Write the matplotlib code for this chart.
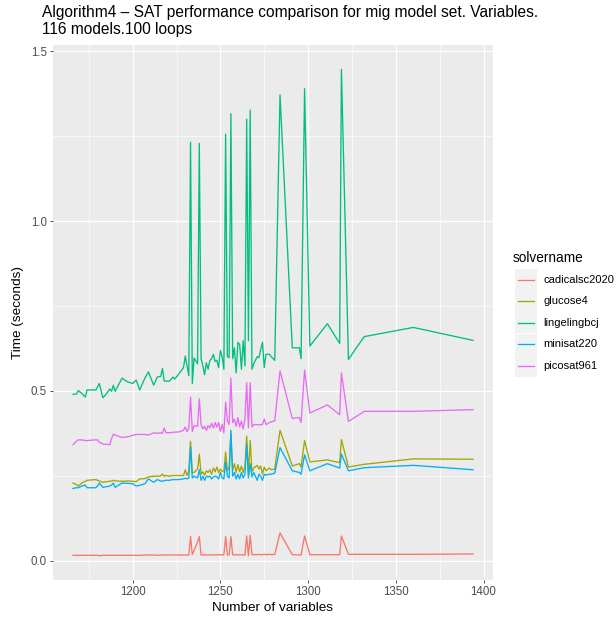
import matplotlib
matplotlib.use("Agg")
import matplotlib.pyplot as plt
from matplotlib.patches import Rectangle
from matplotlib.lines import Line2D

plt.rcParams['font.family'] = ['Liberation Sans', 'DejaVu Sans']

# number of variables per model
variables = [1166, 1168, 1169, 1171, 1173, 1174, 1179, 1180, 1181, 1183, 1185, 1187, 1188, 1189, 1190,
             1194, 1197, 1200, 1202, 1204, 1207, 1209, 1212, 1214, 1216, 1217, 1218, 1219, 1221, 1223,
             1224, 1226, 1229, 1230, 1231, 1232, 1233, 1234, 1235, 1237, 1238, 1239, 1240, 1241, 1242,
             1243, 1244, 1245, 1246, 1247, 1248, 1249, 1250, 1251, 1252, 1253, 1254, 1255, 1256, 1257,
             1258, 1259, 1260, 1261, 1262, 1263, 1264, 1265, 1266, 1267, 1268, 1269, 1271, 1272, 1273,
             1274, 1275, 1276, 1278, 1279, 1281, 1284, 1291, 1295, 1296, 1298, 1301, 1311, 1318, 1319,
             1323, 1332, 1360, 1394]

cadicalsc2020 = [0.016, 0.016, 0.016, 0.016, 0.016, 0.016, 0.016, 0.016, 0.015, 0.016, 0.016, 0.016, 0.016, 0.016, 0.016,
                 0.016, 0.016, 0.016, 0.016, 0.016, 0.017, 0.017, 0.017, 0.016, 0.017, 0.017, 0.017, 0.017, 0.017, 0.017,
                 0.017, 0.017, 0.017, 0.017, 0.017, 0.017, 0.071, 0.018, 0.030, 0.055, 0.071, 0.017, 0.017, 0.018, 0.017,
                 0.017, 0.018, 0.017, 0.017, 0.018, 0.018, 0.017, 0.018, 0.017, 0.018, 0.071, 0.017, 0.018, 0.071, 0.018,
                 0.017, 0.018, 0.018, 0.017, 0.018, 0.017, 0.017, 0.073, 0.015, 0.075, 0.018, 0.018, 0.018, 0.019, 0.018,
                 0.018, 0.019, 0.018, 0.019, 0.018, 0.019, 0.082, 0.018, 0.017, 0.017, 0.073, 0.018, 0.018, 0.018, 0.073,
                 0.019, 0.019, 0.019, 0.020]

glucose4 = [0.229, 0.224, 0.220, 0.229, 0.234, 0.237, 0.239, 0.237, 0.235, 0.231, 0.233, 0.234, 0.235, 0.237, 0.235,
            0.234, 0.235, 0.234, 0.233, 0.241, 0.242, 0.247, 0.249, 0.249, 0.250, 0.255, 0.249, 0.251, 0.249, 0.251,
            0.251, 0.251, 0.251, 0.268, 0.251, 0.265, 0.352, 0.260, 0.260, 0.270, 0.314, 0.255, 0.262, 0.252, 0.265,
            0.260, 0.268, 0.255, 0.273, 0.262, 0.276, 0.260, 0.270, 0.262, 0.265, 0.320, 0.265, 0.276, 0.375, 0.265,
            0.286, 0.260, 0.283, 0.262, 0.279, 0.260, 0.276, 0.367, 0.255, 0.354, 0.262, 0.273, 0.281, 0.270, 0.279,
            0.255, 0.276, 0.265, 0.273, 0.268, 0.270, 0.384, 0.279, 0.286, 0.276, 0.354, 0.291, 0.297, 0.289, 0.357,
            0.276, 0.284, 0.300, 0.299]

lingelingbcj = [0.490, 0.491, 0.501, 0.493, 0.482, 0.503, 0.503, 0.512, 0.522, 0.480, 0.491, 0.506, 0.499, 0.517, 0.499,
                0.538, 0.527, 0.522, 0.532, 0.503, 0.538, 0.556, 0.517, 0.541, 0.543, 0.566, 0.529, 0.529, 0.529, 0.541,
                0.535, 0.548, 0.569, 0.603, 0.574, 0.545, 1.232, 0.522, 0.597, 0.580, 1.229, 0.595, 0.574, 0.548, 0.583,
                0.564, 0.590, 0.595, 0.608, 0.587, 0.590, 0.569, 0.619, 0.601, 0.564, 1.256, 0.601, 0.598, 1.316, 0.595,
                0.627, 0.553, 0.643, 0.637, 0.564, 0.648, 0.574, 1.300, 0.648, 1.327, 0.564, 0.580, 0.601, 0.598, 0.622,
                0.643, 0.569, 0.608, 0.608, 0.601, 0.590, 1.372, 0.627, 0.627, 0.595, 1.390, 0.632, 0.698, 0.640, 1.447,
                0.593, 0.660, 0.687, 0.649]

minisat220 = [0.213, 0.215, 0.215, 0.220, 0.223, 0.215, 0.215, 0.220, 0.229, 0.216, 0.218, 0.220, 0.223, 0.229, 0.216,
              0.229, 0.228, 0.227, 0.220, 0.222, 0.227, 0.241, 0.231, 0.239, 0.235, 0.234, 0.236, 0.237, 0.237, 0.239,
              0.239, 0.239, 0.241, 0.243, 0.241, 0.244, 0.335, 0.244, 0.249, 0.244, 0.268, 0.237, 0.249, 0.237, 0.249,
              0.247, 0.249, 0.241, 0.247, 0.249, 0.247, 0.241, 0.260, 0.244, 0.241, 0.291, 0.249, 0.244, 0.384, 0.249,
              0.260, 0.241, 0.255, 0.241, 0.260, 0.244, 0.255, 0.344, 0.244, 0.286, 0.247, 0.260, 0.237, 0.255, 0.249,
              0.237, 0.255, 0.252, 0.255, 0.255, 0.258, 0.333, 0.265, 0.260, 0.255, 0.312, 0.265, 0.286, 0.273, 0.314,
              0.265, 0.274, 0.281, 0.268]

picosat961 = [0.342, 0.352, 0.356, 0.356, 0.354, 0.354, 0.356, 0.356, 0.349, 0.344, 0.343, 0.342, 0.360, 0.373, 0.370,
              0.363, 0.365, 0.369, 0.372, 0.372, 0.372, 0.370, 0.377, 0.375, 0.377, 0.375, 0.391, 0.377, 0.377, 0.378,
              0.379, 0.379, 0.384, 0.394, 0.380, 0.391, 0.482, 0.380, 0.398, 0.396, 0.477, 0.401, 0.388, 0.396, 0.384,
              0.398, 0.391, 0.405, 0.391, 0.407, 0.394, 0.407, 0.381, 0.401, 0.377, 0.467, 0.412, 0.401, 0.538, 0.407,
              0.417, 0.396, 0.422, 0.394, 0.412, 0.388, 0.417, 0.524, 0.391, 0.524, 0.394, 0.401, 0.401, 0.400, 0.401,
              0.401, 0.417, 0.401, 0.407, 0.409, 0.412, 0.559, 0.419, 0.422, 0.407, 0.562, 0.435, 0.459, 0.430, 0.553,
              0.410, 0.440, 0.440, 0.445]

solvers = ["cadicalsc2020", "glucose4", "lingelingbcj", "minisat220", "picosat961"]
series = [cadicalsc2020, glucose4, lingelingbcj, minisat220, picosat961]
colors = ["#F8766D", "#A3A500", "#00BF7D", "#00B0F6", "#E76BF3"]

W, H = 616, 618
fig = plt.figure(figsize=(W / 100, H / 100), dpi=100)
ax = fig.add_axes([53 / W, 1 - 580 / H, 440 / W, 535 / H])
ax.set_facecolor("#EBEBEB")

for name, vals, col in zip(solvers, series, colors):
    ax.plot(variables, vals, color=col, lw=0.95, label=name)

xr = max(variables) - min(variables)
ax.set_xlim(min(variables) - 0.05 * xr, max(variables) + 0.05 * xr)
allv = [v for s in series for v in s]
yr = max(allv) - min(allv)
ax.set_ylim(min(allv) - 0.05 * yr, max(allv) + 0.05 * yr)

ax.set_xticks([1200, 1250, 1300, 1350, 1400])
ax.set_xticks([1175, 1225, 1275, 1325, 1375], minor=True)
ax.set_yticks([0.0, 0.5, 1.0, 1.5])
ax.set_yticklabels(["0.0", "0.5", "1.0", "1.5"])
ax.set_yticks([0.25, 0.75, 1.25], minor=True)
ax.grid(which="major", color="white", lw=0.9)
ax.grid(which="minor", color="white", lw=0.45)
ax.set_axisbelow(True)
for s in ax.spines.values():
    s.set_visible(False)
ax.tick_params(which="major", length=2.5, width=0.6, color="#333333", labelsize=8.3, labelcolor="#4D4D4D", pad=2)
ax.tick_params(which="minor", length=0)

ax.set_xlabel("Number of variables", fontsize=9.7, color="black", labelpad=3)
ax.set_ylabel("Time (seconds)", fontsize=9.7, color="black", labelpad=5)

fig.text(42 / W, 1 - 5 / H, "Algorithm4 \u2013 SAT performance comparison for mig model set. Variables.\n116 models.100 loops",
         fontsize=11.2, ha="left", va="top", linespacing=1.15)

# legend drawn by hand, ggplot style
fig.text(513 / W, 1 - 258 / H, "solvername", fontsize=9.8, ha="left", va="center")
key_h = 21.5
y0 = 269
for i, (name, col) in enumerate(zip(solvers, colors)):
    top = y0 + i * key_h
    fig.patches.append(Rectangle((515 / W, 1 - (top + key_h) / H), 22 / W, key_h / H,
                                 transform=fig.transFigure, facecolor="#F2F2F2", edgecolor="none"))
    yc = 1 - (top + key_h / 2) / H
    fig.lines.append(Line2D([518 / W, 534 / W], [yc, yc], transform=fig.transFigure, color=col, lw=0.95))
    fig.text(543 / W, yc, name, fontsize=8, ha="left", va="center")

fig.savefig("out.png", dpi=100)
